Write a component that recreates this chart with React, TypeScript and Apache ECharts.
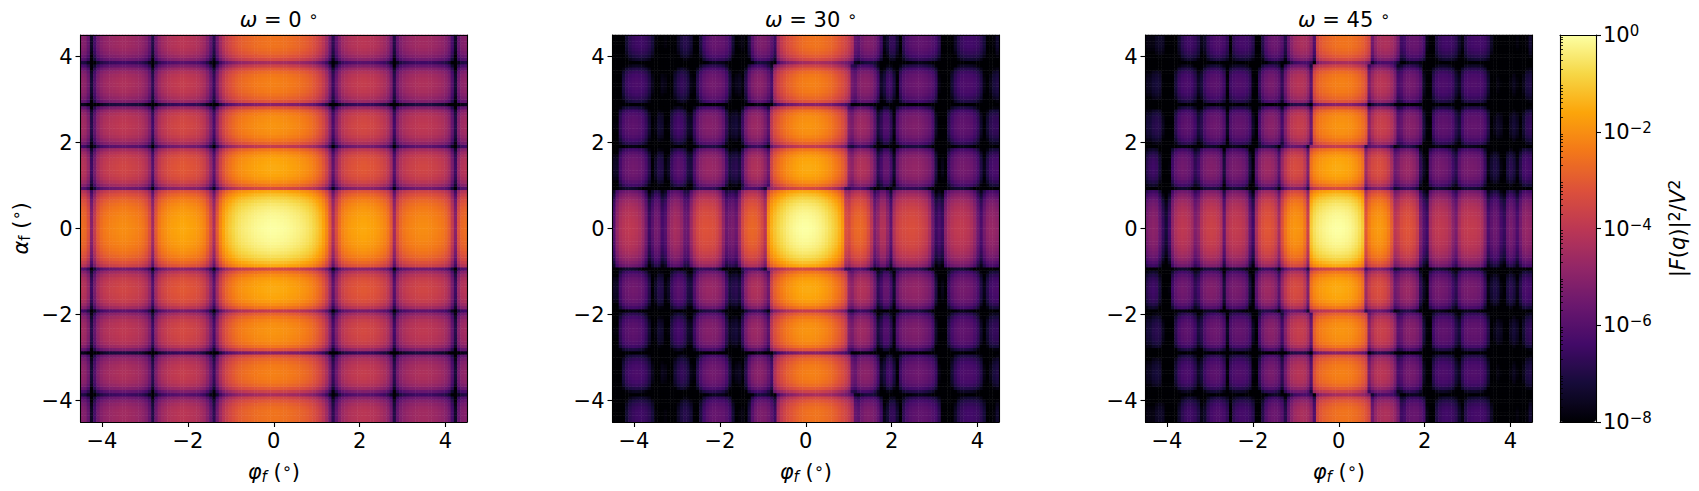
import React, { useEffect, useRef } from "react";
import * as echarts from "echarts";

// All profiles are log10(|F(q)|^2/V^2).
// Heatmap cells are composed by looking up these read profiles (phi profile + alpha profile,
// with the fringe shift read per alpha band); cells were not read one by one.
const phiOmega0Half = [
  -2.6,-2.7,-3.2,-5.0,-3.8,-2.95,-2.6,-2.4,-2.3,-2.2,-2.15,-2.1,-2.05,-2.05,-2.05,-2.1,-2.15,-2.2,-2.3,-2.45,
  -2.7,-3.2,-4.5,-3.0,-2.4,-2.1,-1.95,-1.8,-1.7,-1.65,-1.6,-1.55,-1.55,-1.6,-1.65,-1.7,-1.8,-1.95,-2.15,-2.6,
  -3.3,-4.3,-3.0,-2.1,-1.6,-1.25,-1.0,-0.8,-0.62,-0.5,-0.4,-0.33,-0.26,-0.2,-0.15,-0.1,-0.07,-0.04,-0.02,0,
];
const phiOmega30 = [
  -6.0,-4.8,-4.3,-4.1,-4.0,-3.95,-4.0,-4.1,-4.3,-4.7,-5.4,-6.5,-5.9,-5.4,-5.5,-6.3,-6.0,-5.0,-4.6,-4.4,
  -4.5,-4.8,-5.5,-5.6,-4.6,-3.9,-3.5,-3.3,-3.2,-3.2,-3.25,-3.3,-3.5,-3.9,-4.8,-5.6,-5.4,-5.3,-5.6,-4.6,
  -3.5,-3.0,-2.8,-2.75,-2.8,-3.0,-3.4,-4.0,-2.0,-1.4,-1.1,-0.85,-0.65,-0.5,-0.35,-0.22,-0.13,-0.06,-0.02,0,
  0,-0.03,-0.07,-0.14,-0.22,-0.33,-0.47,-0.65,-0.85,-1.05,-1.35,-1.8,-3.2,-3.4,-2.95,-2.75,-2.7,-2.75,-2.9,-3.3,
  -4.0,-5.2,-4.8,-4.2,-4.2,-4.8,-5.8,-4.2,-3.7,-3.5,-3.4,-3.35,-3.3,-3.3,-3.35,-3.45,-3.6,-3.8,-4.3,-5.5,
  -6.5,-6.2,-6.5,-5.0,-4.4,-4.1,-3.95,-3.9,-3.9,-3.95,-4.05,-4.3,-4.7,-5.5,-6.2,-5.4,-4.9,-4.75,-4.75,-4.9,
];
const phiOmega45 = [
  -5.3,-5.05,-4.95,-5.05,-5.7,-6.6,-7.2,-6.4,-4.9,-4.3,-4.05,-3.95,-4.0,-4.15,-4.5,-5.2,-4.9,-4.2,-3.85,-3.7,
  -3.65,-3.7,-3.85,-4.2,-5.6,-4.2,-3.95,-3.85,-3.85,-3.9,-4.05,-4.4,-5.6,-6.4,-4.4,-3.6,-3.25,-3.1,-3.1,-3.25,
  -3.55,-4.4,-3.2,-2.5,-2.1,-1.95,-1.85,-1.9,-2.0,-2.4,-3.6,-1.0,-0.6,-0.42,-0.3,-0.2,-0.12,-0.06,-0.02,0,
  0,-0.03,-0.08,-0.15,-0.27,-0.42,-0.65,-1.0,-3.0,-2.3,-1.95,-1.85,-1.8,-1.85,-2.0,-2.3,-2.9,-4.0,-3.8,-3.35,
  -3.2,-3.15,-3.2,-3.4,-3.8,-5.2,-6.0,-6.4,-4.5,-4.1,-3.95,-3.9,-3.95,-4.05,-4.3,-4.9,-5.3,-4.4,-4.0,-3.9,
  -3.85,-3.85,-3.9,-4.0,-4.3,-5.0,-6.2,-5.8,-5.55,-5.7,-6.3,-6.6,-5.6,-5.35,-5.6,-6.2,-5.4,-4.85,-4.75,-4.85,
];
const alphaHalf = [
  0,-0.02,-0.05,-0.09,-0.15,-0.22,-0.32,-0.45,-0.62,-0.85,-1.15,-1.5,-3.4,-2.4,-2.0,-1.75,-1.6,-1.55,-1.5,-1.5,
  -1.55,-1.6,-1.75,-2.0,-2.4,-3.8,-2.8,-2.4,-2.15,-2.0,-1.95,-1.9,-1.9,-1.95,-2.0,-2.15,-2.45,-3.1,-5.0,-3.1,
  -2.7,-2.5,-2.35,-2.3,-2.25,-2.25,-2.3,-2.4,-2.6,-3.0,-3.6,-4.4,-3.4,-3.0,-2.75,-2.6,-2.5,-2.5,-2.5,-2.5,
];
// alpha values of the horizontal dark lines, and the fringe shift (deg of phi) read in each band between them
const rowNodes = [0.95, 1.92, 2.87, 3.84];
const shiftOmega0 = [0, 0, 0, 0, 0];
const shiftOmega30 = [0, 0.05, 0.1, 0.17, 0.25];
const shiftOmega45 = [0, 0.02, 0.06, 0.1, 0.15];

const panelTitles = ["0", "30", "45"];
const panelLefts = [80.5, 612.5, 1145.5];
const axisTicks = [-4, -2, 0, 2, 4];
const infernoStops = ["#000004","#160b39","#420a68","#6a176e","#932667","#bc3754","#dd513a","#f37819","#fca50a","#f6d746","#fcffa4"];

const FONT = "DejaVu Sans";
const STEP = 0.075;
const N = 120;
const TOP = 35;
const SIZE = 387;
const FS = 21;

const phiProfiles = [[...phiOmega0Half, ...phiOmega0Half.slice().reverse()], phiOmega30, phiOmega45];
const shifts = [shiftOmega0, shiftOmega30, shiftOmega45];

function cells(k: number) {
  const out: number[][] = [];
  const cats = Array.from({ length: N }, (_, i) => i);
  for (const j of cats) {
    const h = j < N / 2 ? N / 2 - 1 - j : j - N / 2;
    const y = STEP / 2 + STEP * h;
    const band = rowNodes.filter((n) => y > n).length;
    const s = Math.round(shifts[k][band] / STEP);
    for (const i of cats) {
      const ci = Math.max(0, Math.min(N - 1, i - s));
      out.push([i, j, Math.max(-8, phiProfiles[k][ci] + alphaHalf[h])]);
    }
  }
  return out;
}

const fmtTick = (v: number) => (v < 0 ? "\u2212" + Math.abs(v) : String(v));
const black = { color: "#000", width: 1.1 };
const base = { fontFamily: FONT, color: "#000", fontWeight: "normal" };

const angleRich = {
  i: { ...base, fontSize: FS, fontStyle: "italic" },
  n: { ...base, fontSize: FS },
  u: { ...base, fontSize: 16, verticalAlign: "top", padding: [0, 0, 8, 0] },
  s: { ...base, fontSize: 15, fontStyle: "italic", verticalAlign: "bottom", padding: [6, 0, 0, 0] },
  r: { ...base, fontSize: 15, verticalAlign: "bottom", padding: [6, 0, 0, 0] },
};

function buildOption() {
  const grid: any[] = [];
  const xAxis: any[] = [];
  const yAxis: any[] = [];
  const series: any[] = [];
  const title: any[] = [];
  const cats = Array.from({ length: N }, (_, i) => String(i));

  panelLefts.forEach((left, k) => {
    grid.push({ left, top: TOP, width: SIZE - 0.5, height: SIZE, outerBoundsMode: "none" });
    const frame = {
      gridIndex: k, type: "category", data: cats, z: 10, silent: true,
      axisLabel: { show: false }, axisTick: { show: false },
      axisLine: { show: true, onZero: false, lineStyle: black },
    };
    const scale = {
      gridIndex: k, type: "value", min: -4.5, max: 4.5, z: 10, silent: true,
      splitLine: { show: false },
      axisLine: { show: true, onZero: false, lineStyle: black },
      axisTick: { show: true, length: 5, customValues: axisTicks, lineStyle: black },
      axisLabel: {
        customValues: axisTicks, formatter: fmtTick, margin: 8,
        fontFamily: FONT, fontSize: FS, color: "#000",
      },
    };
    xAxis.push({ ...frame, position: "top" });
    xAxis.push({
      ...scale, position: "bottom",
      name: "{i|\u03c6}{s|f}{n| (}{u|\u2218}{n|)}", nameLocation: "middle", nameGap: 38,
      nameTextStyle: { rich: angleRich },
    });
    yAxis.push({ ...frame, position: "right" });
    yAxis.push({
      ...scale, position: "left",
      ...(k === 0
        ? {
            name: "{i|\u03b1}{r|f}{n| (}{u|\u2218}{n|)}", nameLocation: "middle", nameGap: 48, nameRotate: 90,
            nameTextStyle: { rich: angleRich },
          }
        : {}),
    });
    series.push({
      type: "heatmap", xAxisIndex: 2 * k, yAxisIndex: 2 * k, data: cells(k),
      progressive: 0, animation: false, silent: true, emphasis: { disabled: true },
    });
    title.push({
      text: `{i|\u03c9}{n| = ${panelTitles[k]} }{u|\u2218}`,
      left: left + SIZE / 2, top: 3, textAlign: "center",
      textStyle: { fontWeight: "normal", rich: angleRich },
    });
  });

  // colour bar: frame and decade ticks
  const cbLeft = 1560, cbWidth = 36;
  grid.push({ left: cbLeft, top: TOP, width: cbWidth, height: SIZE, outerBoundsMode: "none" });
  grid.push({ left: cbLeft, top: TOP, width: cbWidth, height: SIZE, outerBoundsMode: "none" });
  const hiddenX = { type: "value", min: 0, max: 1, z: 10, silent: true, splitLine: { show: false }, axisLabel: { show: false }, axisTick: { show: false } };
  xAxis.push({ ...hiddenX, gridIndex: 3, position: "top", axisLine: { show: true, onZero: false, lineStyle: black } });
  xAxis.push({ ...hiddenX, gridIndex: 3, position: "bottom", axisLine: { show: true, onZero: false, lineStyle: black } });
  xAxis.push({ ...hiddenX, gridIndex: 4, position: "bottom", axisLine: { show: false } });
  yAxis.push({
    gridIndex: 3, type: "value", position: "left", min: -8, max: 0, interval: 2, z: 10, silent: true,
    splitLine: { show: false }, axisLabel: { show: false }, axisTick: { show: false },
    axisLine: { show: true, onZero: false, lineStyle: black },
  });
  yAxis.push({
    gridIndex: 3, type: "value", position: "right", min: -8, max: 0, interval: 2, z: 10, silent: true,
    splitLine: { show: false },
    axisLine: { show: true, onZero: false, lineStyle: black },
    axisTick: { show: true, length: 5, lineStyle: black },
    axisLabel: {
      margin: 7,
      formatter: (v: number) => `{b|10}{p|${v < 0 ? "\u2212" + Math.abs(v) : v}}`,
      rich: {
        b: { ...base, fontSize: FS },
        p: { ...base, fontSize: 15, verticalAlign: "top", padding: [0, 0, 8, 0] },
      },
    },
    name: "{n||}{i|F}{n|(}{i|q}{n|)|}{u|2}{n|/}{i|V}{u|2}", nameLocation: "middle", nameGap: 70, nameRotate: 90,
    nameTextStyle: { rich: angleRich },
  });
  const minorValues: number[] = [];
  for (let e = -8; e < 0; e++) for (let m = 2; m < 10; m++) minorValues.push(e + Math.log10(m));
  yAxis.push({
    gridIndex: 4, type: "value", position: "right", min: -8, max: 0, z: 10, silent: true,
    splitLine: { show: false }, axisLabel: { show: false }, axisLine: { show: false },
    axisTick: { show: true, length: 3, customValues: minorValues, lineStyle: { color: "#000", width: 0.8 } },
  });

  return {
    animation: false,
    backgroundColor: "#fff",
    title, grid, xAxis, yAxis, series,
    visualMap: {
      type: "continuous", min: -8, max: 0, seriesIndex: [0, 1, 2], dimension: 2,
      left: cbLeft, top: TOP, padding: 0, itemWidth: cbWidth, itemHeight: SIZE,
      calculable: false, hoverLink: false, realtime: false,
      inRange: { color: infernoStops },
    },
  };
}

export default function App() {
  const ref = useRef<HTMLDivElement>(null);
  useEffect(() => {
    document.body.style.margin = "0";
    const chart = echarts.init(ref.current!, undefined, { renderer: "svg" });
    chart.setOption(buildOption() as any);
    return () => chart.dispose();
  }, []);
  return <div ref={ref} style={{ width: 1699, height: 491 }} />;
}
